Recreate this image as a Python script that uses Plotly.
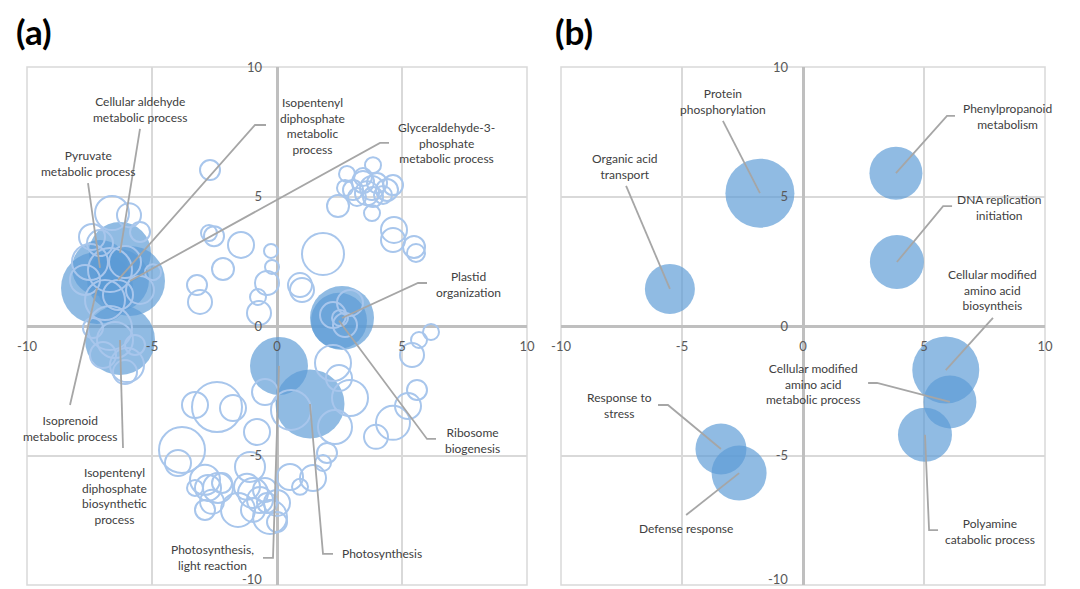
import plotly.graph_objects as go

# ---------------- data ----------------
ticks = [-10, -5, 0, 5, 10]
tick_labels = ["-10", "-5", "0", "5", "10"]

# Panel (a): labelled GO terms (filled bubbles)
a_names = ["Cellular aldehyde metabolic process", "Pyruvate metabolic process",
           "Isopentenyl diphosphate metabolic process", "Glyceraldehyde-3-phosphate metabolic process",
           "Isoprenoid metabolic process", "Isopentenyl diphosphate biosynthetic process",
           "Plastid organization", "Ribosome biogenesis",
           "Photosynthesis, light reaction", "Photosynthesis"]
a_x = [-6.28, -7.08, -6.36, -5.88, -7.2, -6.28, 2.6, 2.48, 0.08, 1.32]
a_y = [2.82, 2.24, 1.78, 1.74, 1.47, -0.54, 0.31, 0.2, -1.54, -3.01]
a_size = [62, 56, 62, 70, 72, 70, 64, 56, 58, 69]

# Panel (a): other GO terms (hollow bubbles)
a_hx = [-2.68, -2.72, -2.52, -1.44, -0.24, -2.16, -0.2, -0.4, -3.2, -3.08, -0.76, -0.72,
        0.92, 1.0, 1.84, 2.44, 2.8, 3.84,
        3.04, 3.44, 4.0, 4.4, 4.64, 3.6, 3.2, 3.84, 4.24, 3.44, 3.8, 2.72,
        3.8, 4.68, 4.64, 5.48, 5.56,
        6.16, 5.68, 5.4, 5.6, 5.24, 4.64, 3.96, 2.24, 2.48, 2.92, 2.32, 2.0, 1.84,
        1.44, 0.92, 0.52, 0.0, 0.0, 0.56,
        -3.28, -2.4, -1.76, -0.8, -0.48, -3.8, -3.96, -1.08, -2.88, -2.76, -2.36, -3.28,
        -2.88, -2.2, -2.6, -1.2, -0.96, -1.56, -0.68, -0.4, -0.28, -0.96, -0.48,
        -6.6, -5.92, -5.48, -7.4, -7.08, -4.96,
        -7.48, -6.68, -6.08, -5.48, -6.88, -6.36, -7.68,
        -7.36, -6.68, -6.0, -6.96, -6.48, -5.68, -6.08,
        2.92, 2.24, 2.72, 2.52]
a_hy = [6.02, 3.59, 3.47, 3.13, 2.9, 2.2, 2.28, 1.66, 1.58, 0.93, 1.12, 0.5,
        1.58, 1.39, 2.78, 4.63, 5.87, 6.21,
        5.25, 5.56, 5.52, 5.25, 5.44, 5.13, 4.98, 4.98, 5.06, 5.75, 5.33, 5.33,
        4.36, 3.71, 3.32, 3.05, 2.82,
        -0.23, -0.54, -1.12, -2.47, -3.09, -3.74, -4.28, -1.43, -2.01, -2.78, -3.9, -4.9, -5.29,
        -5.87, -6.21, -5.83, -6.83, -7.57, -3.24,
        -3.05, -3.13, -3.17, -4.09, -2.55, -4.79, -5.29, -5.44, -5.94, -6.25, -6.25, -6.25,
        -7.1, -6.06, -6.79, -6.21, -6.45, -7.1, -6.72, -6.83, -7.37, -7.1, -6.33,
        4.36, 4.28, 3.63, 3.44, 3.2, 2.08,
        2.47, 2.16, 2.47, 1.39, 1.0, 1.2, 1.78,
        -0.08, -0.08, -1.51, -1.12, -0.54, -0.73, -1.78,
        0.89, 0.42, 0.04, 0.31]
a_hsize = [20, 16, 20, 26, 14, 22, 14, 24, 20, 24, 16, 24,
           24, 24, 42, 22, 16, 16,
           20, 22, 20, 22, 20, 24, 18, 20, 18, 18, 24, 16,
           16, 26, 24, 22, 18,
           16, 16, 24, 20, 26, 34, 24, 36, 26, 36, 34, 20, 16,
           26, 16, 26, 26, 20, 40,
           26, 50, 26, 26, 26, 46, 26, 30, 30, 26, 30, 16,
           20, 20, 24, 26, 30, 34, 26, 20, 34, 24, 24,
           34, 24, 20, 26, 26, 16,
           36, 44, 32, 28, 40, 30, 30,
           20, 44, 34, 26, 36, 20, 24,
           26, 26, 24, 16]

# Panel (b)
b_names = ["Organic acid transport", "Protein phosphorylation", "Phenylpropanoid metabolism",
           "DNA replication initiation", "Cellular modified amino acid biosyntheis",
           "Cellular modified amino acid metabolic process", "Polyamine catabolic process",
           "Response to stress", "Defense response"]
b_x = [-5.5, -1.78, 3.84, 3.88, 5.9, 6.07, 5.04, -3.39, -2.64]
b_y = [1.43, 5.13, 5.9, 2.47, -1.7, -2.93, -4.2, -4.75, -5.68]
b_size = [50, 69, 53, 54, 67, 53, 54, 51, 55]

# ---------------- label layout (text position + leader bend points) ----------------
a_labels = {
    "Cellular aldehyde metabolic process": ((-5.48, 8.36), "Cellular aldehyde<br>metabolic process", [(-5.48, 7.61)]),
    "Pyruvate metabolic process": ((-7.56, 6.27), "Pyruvate<br>metabolic process", [(-7.56, 5.52)]),
    "Isopentenyl diphosphate metabolic process": ((1.4, 7.72), "Isopentenyl<br>diphosphate<br>metabolic<br>process",
                                                  [(-0.44, 7.76), (-0.88, 7.76)]),
    "Glyceraldehyde-3-phosphate metabolic process": ((6.76, 7.07), "Glyceraldehyde-3-<br>phosphate<br>metabolic process",
                                                     [(4.48, 7.07), (4.12, 7.07)]),
    "Plastid organization": ((7.64, 1.6), "Plastid<br>organization", [(6.0, 1.66), (5.64, 1.66)]),
    "Ribosome biogenesis": ((7.8, -4.42), "Ribosome<br>biogenesis", [(6.36, -4.36), (6.0, -4.36)]),
    "Photosynthesis, light reaction": ((-2.6, -8.95), "Photosynthesis,<br>light reaction",
                                       [(-0.56, -8.95), (-0.16, -8.95)]),
    "Photosynthesis": ((4.2, -8.8), "Photosynthesis", [(2.24, -8.8), (1.84, -8.8)]),
    "Isoprenoid metabolic process": ((-8.28, -3.96), "Isoprenoid<br>metabolic process", [(-8.28, -3.05)]),
    "Isopentenyl diphosphate biosynthetic process": ((-6.52, -6.58), "Isopentenyl<br>diphosphate<br>biosynthetic<br>process",
                                                     [(-6.16, -4.71)]),
}
b_labels = {
    "Organic acid transport": ((-7.36, 6.16), "Organic acid<br>transport", [(-7.31, 5.41)]),
    "Protein phosphorylation": ((-3.31, 8.67), "Protein<br>phosphorylation", [(-3.31, 7.92)]),
    "Phenylpropanoid metabolism": ((8.43, 8.07), "Phenylpropanoid<br>metabolism", [(6.28, 8.11), (5.95, 8.11)]),
    "DNA replication initiation": ((8.14, 4.59), "DNA replication<br>initiation", [(6.16, 4.63), (5.79, 4.63)]),
    "Cellular modified amino acid biosyntheis": ((7.85, 1.39), "Cellular modified<br>amino acid<br>biosyntheis",
                                                 [(7.85, 0.31)]),
    "Cellular modified amino acid metabolic process": ((0.41, -2.24), "Cellular modified<br>amino acid<br>metabolic process",
                                                       [(2.69, -2.2), (3.06, -2.2)]),
    "Polyamine catabolic process": ((7.73, -7.93), "Polyamine<br>catabolic process", [(5.58, -7.88), (5.21, -7.88)]),
    "Response to stress": ((-7.6, -3.07), "Response to<br>stress", [(-5.99, -3.05), (-5.58, -3.05)]),
    "Defense response": ((-4.83, -7.8), "Defense response", [(-4.83, -7.3)]),
}

FILL = "rgba(91,155,213,0.68)"
HOLLOW = "rgb(168,198,236)"
LEADER = "#a6a6a6"
LABEL_FONT = dict(family="Lato", size=12, color="#404040")
TICK_FONT = dict(family="Lato", size=13, color="#595959")

W, H = 1080, 589
OFF = 8  # page body margin of the browser


def px_x(p):
    return (p - OFF) / W


def px_y(p):
    return 1 - (p - OFF) / H


fig = go.Figure()

# panel (a) filled
fig.add_trace(go.Scatter(x=a_x, y=a_y, mode="markers", xaxis="x", yaxis="y",
                         marker=dict(size=a_size, sizemode="diameter", sizeref=1, color=FILL,
                                     opacity=1, line=dict(width=0)), hoverinfo="text", text=a_names))
# panel (a) hollow
fig.add_trace(go.Scatter(x=a_hx, y=a_hy, mode="markers", xaxis="x", yaxis="y",
                         marker=dict(size=a_hsize, sizemode="diameter", sizeref=1, opacity=1,
                                     color="rgba(0,0,0,0)", line=dict(width=2, color=HOLLOW)),
                         hoverinfo="skip"))
# panel (b)
fig.add_trace(go.Scatter(x=b_x, y=b_y, mode="markers", xaxis="x2", yaxis="y2",
                         marker=dict(size=b_size, sizemode="diameter", sizeref=1, color=FILL,
                                     opacity=1, line=dict(width=0)), hoverinfo="text", text=b_names))

annotations = []


def add_leaders(names, xs, ys, labels, xa, ya):
    for name, bx, by in zip(names, xs, ys):
        (lx, ly), text, bends = labels[name]
        px = [p[0] for p in bends] + [bx]
        py = [p[1] for p in bends] + [by]
        fig.add_trace(go.Scatter(x=px, y=py, mode="lines", xaxis=xa, yaxis=ya,
                                 line=dict(color=LEADER, width=1.8), hoverinfo="skip"))
        annotations.append(dict(x=lx, y=ly, xref=xa, yref=ya, text=text, showarrow=False,
                                font=LABEL_FONT, align="center", xanchor="center", yanchor="middle"))


add_leaders(a_names, a_x, a_y, a_labels, "x", "y")
add_leaders(b_names, b_x, b_y, b_labels, "x2", "y2")

annotations.append(dict(x=px_x(34), y=1, xref="paper", yref="paper", text="<b>(a)</b>",
                        showarrow=False, font=dict(family="Lato", size=35, color="#000000"),
                        xanchor="center", yanchor="top"))
annotations.append(dict(x=px_x(574), y=1, xref="paper", yref="paper", text="<b>(b)</b>",
                        showarrow=False, font=dict(family="Lato", size=35, color="#000000"),
                        xanchor="center", yanchor="top"))

YDOM = [px_y(585), px_y(67)]
YMID = (YDOM[0] + YDOM[1]) / 2
XDOM_A = [px_x(27), px_x(527)]
XDOM_B = [px_x(561), px_x(1045)]
YPOS_A = (XDOM_A[0] + XDOM_A[1]) / 2
YPOS_B = (XDOM_B[0] + XDOM_B[1]) / 2

# lowest y tick label is lifted slightly so it stays inside the page
for xpos in (YPOS_A, YPOS_B):
    annotations.append(dict(x=xpos, y=px_y(589), xref="paper", yref="paper", text=tick_labels[0],
                            showarrow=False, font=TICK_FONT, xanchor="right", yanchor="bottom",
                            xshift=-13))

common = dict(range=[-10, 10], tickvals=ticks, showgrid=True,
              gridcolor="#d9d9d9", gridwidth=1.5, zeroline=True, zerolinecolor="#bfbfbf",
              zerolinewidth=2.5, showline=False, ticks="", tickfont=TICK_FONT,
              anchor="free", fixedrange=True, automargin=False)
xcommon = dict(common, ticktext=tick_labels, ticklabelstandoff=11)
ycommon = dict(common, ticktext=[""] + tick_labels[1:], ticklabelstandoff=15)

fig.update_layout(
    width=W, height=H, margin=dict(l=0, r=0, t=0, b=0, autoexpand=False),
    paper_bgcolor="white", plot_bgcolor="white", showlegend=False,
    xaxis=dict(xcommon, domain=XDOM_A, position=YMID),
    yaxis=dict(ycommon, domain=YDOM, position=YPOS_A),
    xaxis2=dict(xcommon, domain=XDOM_B, position=YMID),
    yaxis2=dict(ycommon, domain=YDOM, position=YPOS_B),
    annotations=annotations,
    shapes=[
        dict(type="rect", xref="x domain", yref="y domain", x0=0, x1=1, y0=0, y1=1,
             line=dict(color="#d9d9d9", width=1.5), layer="below"),
        dict(type="rect", xref="x2 domain", yref="y2 domain", x0=0, x1=1, y0=0, y1=1,
             line=dict(color="#d9d9d9", width=1.5), layer="below"),
    ],
)

fig.write_html("out.html")
